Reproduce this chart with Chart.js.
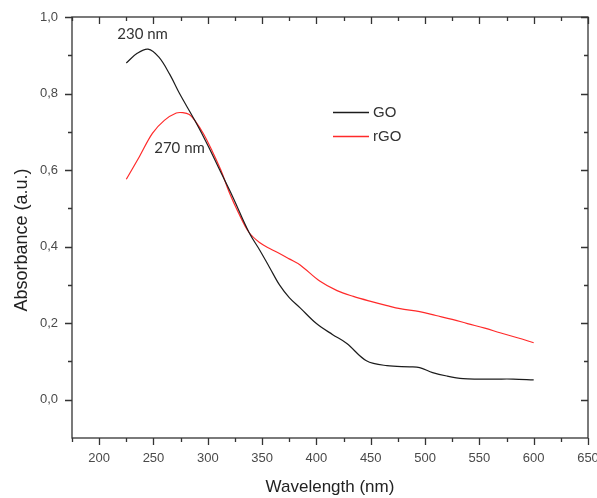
<!DOCTYPE html>
<html>
<head>
<meta charset="utf-8">
<script src="https://cdn.jsdelivr.net/npm/chart.js@4.4.0/dist/chart.umd.min.js"></script>
<style>
    html, body { margin: 0; padding: 0; background: #fff; }
    canvas { display: block; }
</style>
</head>
<body>
<canvas id="uvvis" width="597" height="498"></canvas>
<script>
// GO spectrum (nm / a.u.)
const goWavelength = [225, 235, 245, 255, 265, 274, 288, 300, 311, 323, 338, 348, 357, 366, 375, 385, 400, 415, 428, 446, 465, 486, 495, 507, 520, 535, 550, 565, 581, 600]
const goAbsorbance = [0.88, 0.905, 0.916, 0.895, 0.85, 0.80, 0.73, 0.665, 0.60, 0.53, 0.437, 0.39, 0.345, 0.30, 0.267, 0.24, 0.199, 0.17, 0.147, 0.102, 0.089, 0.086, 0.084, 0.071, 0.062, 0.055, 0.054, 0.054, 0.054, 0.052]

// rGO spectrum
const rgoWavelength = [225, 237, 249, 260, 271, 277, 283, 288, 296, 304, 312, 320, 328, 338, 348, 357, 366, 375, 385, 403, 419, 434, 450, 465, 477, 495, 510, 525, 539, 555, 569, 585, 600]
const rgoAbsorbance = [0.576, 0.635, 0.696, 0.73, 0.749, 0.75, 0.745, 0.73, 0.695, 0.65, 0.60, 0.54, 0.49, 0.437, 0.41, 0.395, 0.382, 0.368, 0.352, 0.31, 0.285, 0.27, 0.257, 0.246, 0.238, 0.23, 0.22, 0.21, 0.199, 0.187, 0.175, 0.162, 0.149]

const xMajorTicks = [200, 250, 300, 350, 400, 450, 500, 550, 600, 650]
const xMinorTicks = [175, 225, 275, 325, 375, 425, 475, 525, 575, 625]
const yMajorTicks = [0, 0.2, 0.4, 0.6, 0.8, 1.0]
const yMinorTicks = [0.1, 0.3, 0.5, 0.7, 0.9]

const peakLabels = [
    { text: '230 nm', wavelength: 240, absorbance: 0.955 },
    { text: '270 nm', wavelength: 274, absorbance: 0.657 }
]

const seriesNames = ['GO', 'rGO']
const seriesColors = ['#1c1c1c', '#ff2a2a']

const tickFont = { family: 'Liberation Sans, Arial, sans-serif', size: 13 }
const titleFont = { family: 'Liberation Sans, Arial, sans-serif', size: 17, lineHeight: 1.2 }

function toPoints(xs, ys) {
    return xs.map((x, i) => ({ x: x, y: ys[i] }))
}

// box around the plot with ticks: outward on left/bottom, inward on top/right
const framePlugin = {
    id: 'frame',
    afterDraw(chart) {
        const ctx = chart.ctx
        const a = chart.chartArea
        const xs = chart.scales.x
        const ys = chart.scales.y
        ctx.save()
        ctx.strokeStyle = '#333'
        ctx.lineWidth = 1.3
        ctx.strokeRect(a.left, a.top, a.right - a.left, a.bottom - a.top)

        ctx.beginPath()
        function xTick(v, len) {
            const px = Math.round(xs.getPixelForValue(v)) + 0.5
            ctx.moveTo(px, a.bottom); ctx.lineTo(px, a.bottom + len)
            ctx.moveTo(px, a.top); ctx.lineTo(px, a.top + len)
        }
        function yTick(v, len) {
            const py = Math.round(ys.getPixelForValue(v)) + 0.5
            ctx.moveTo(a.left, py); ctx.lineTo(a.left - len, py)
            ctx.moveTo(a.right, py); ctx.lineTo(a.right - len, py)
        }
        xMajorTicks.forEach(v => xTick(v, 7))
        xMinorTicks.forEach(v => xTick(v, 4))
        yMajorTicks.forEach(v => yTick(v, 7))
        yMinorTicks.forEach(v => yTick(v, 4))
        ctx.stroke()

        // peak annotations
        ctx.fillStyle = '#333'
        ctx.font = '15px Lato, sans-serif'
        ctx.textAlign = 'center'
        ctx.textBaseline = 'middle'
        peakLabels.forEach(p => {
            ctx.fillText(p.text, xs.getPixelForValue(p.wavelength), ys.getPixelForValue(p.absorbance))
        })

        // legend box inside the plot
        const lx = a.left + 261
        const ly = a.top + 95
        ctx.font = '15px Liberation Sans, Arial, sans-serif'
        ctx.textAlign = 'left'
        seriesNames.forEach((name, i) => {
            const y = ly + i * 24
            ctx.strokeStyle = seriesColors[i]
            ctx.lineWidth = 1.3
            ctx.beginPath()
            ctx.moveTo(lx, y + 0.5)
            ctx.lineTo(lx + 36, y + 0.5)
            ctx.stroke()
            ctx.fillStyle = '#333'
            ctx.fillText(name, lx + 40, y + 1)
        })
        ctx.restore()
    }
}

const chart = new Chart(document.getElementById('uvvis'), {
    type: 'line',
    data: {
        datasets: [
            {
                label: seriesNames[0],
                data: toPoints(goWavelength, goAbsorbance),
                borderColor: seriesColors[0],
                borderWidth: 1.2,
                pointRadius: 0,
                tension: 0.35
            },
            {
                label: seriesNames[1],
                data: toPoints(rgoWavelength, rgoAbsorbance),
                borderColor: seriesColors[1],
                borderWidth: 1.2,
                pointRadius: 0,
                tension: 0.35
            }
        ]
    },
    options: {
        responsive: false,
        animation: false,
        devicePixelRatio: 1,
        layout: { padding: { top: 17, right: 9, left: 0, bottom: 0 } },
        plugins: {
            legend: { display: false },
            tooltip: { enabled: false }
        },
        scales: {
            x: {
                type: 'linear',
                min: 175,
                max: 650,
                grid: { display: false, drawTicks: false },
                border: { display: false },
                afterBuildTicks: scale => { scale.ticks = xMajorTicks.map(v => ({ value: v })) },
                afterFit: scale => {
                    scale.height = 60
                    scale.paddingLeft = 0
                    scale.paddingRight = 0
                },
                ticks: {
                    autoSkip: false,
                    maxRotation: 0,
                    padding: 13,
                    color: '#4a4a4a',
                    font: tickFont,
                    callback: v => String(v)
                },
                title: {
                    display: true,
                    text: 'Wavelength (nm)',
                    color: '#222',
                    font: titleFont,
                    padding: { top: 0, bottom: 0 }
                }
            },
            y: {
                type: 'linear',
                min: -0.1,
                max: 1.0,
                grid: { display: false, drawTicks: false },
                border: { display: false },
                afterBuildTicks: scale => { scale.ticks = yMajorTicks.map(v => ({ value: v })) },
                afterFit: scale => {
                    scale.width = 72
                    scale.paddingTop = 0
                    scale.paddingBottom = 0
                },
                ticks: {
                    padding: 14,
                    color: '#4a4a4a',
                    font: tickFont,
                    callback: v => v.toFixed(1).replace('.', ',')
                },
                title: {
                    display: true,
                    text: 'Absorbance (a.u.)     ',
                    color: '#222',
                    font: { family: 'Liberation Sans, Arial, sans-serif', size: 18, lineHeight: 1.2 },
                    padding: { top: 11, bottom: 0 }
                }
            }
        }
    },
    plugins: [framePlugin]
})
</script>
</body>
</html>
